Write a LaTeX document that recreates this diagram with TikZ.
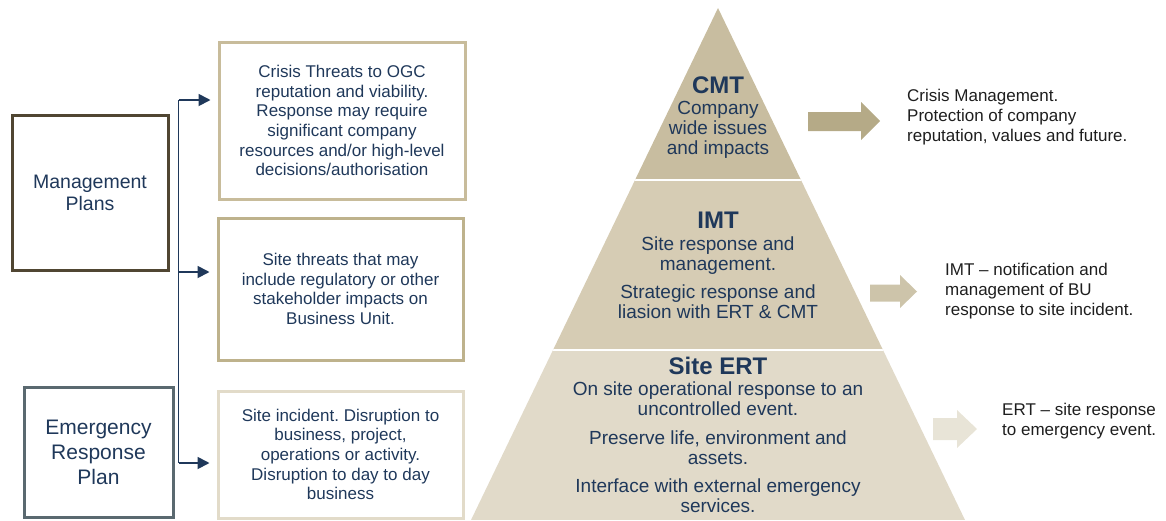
\documentclass[tikz,border=0pt]{standalone}
\usepackage{fontspec}
\setmainfont{Liberation Sans}
\usetikzlibrary{arrows.meta}
\frenchspacing

\definecolor{navy}{RGB}{31,56,90}
\definecolor{inkgray}{RGB}{30,30,30}
\definecolor{mgmtline}{RGB}{80,70,50}
\definecolor{erpline}{RGB}{90,105,112}
\definecolor{crisisline}{RGB}{200,188,155}
\definecolor{siteline}{RGB}{190,178,140}
\definecolor{incidentline}{RGB}{226,219,201}
\definecolor{cmtfill}{RGB}{200,189,160}
\definecolor{imtfill}{RGB}{214,204,180}
\definecolor{ertfill}{RGB}{225,218,201}
\definecolor{cmtarrow}{RGB}{181,170,135}
\definecolor{imtarrow}{RGB}{205,196,170}
\definecolor{ertarrow}{RGB}{232,228,215}

\begin{document}
\begin{tikzpicture}[x=1pt,y=-1pt,
  planbox/.style={draw, line width=3pt, inner sep=0pt, align=center,
    text=navy, font=\fontsize{19.5}{22}\selectfont},
  threatbox/.style={draw, line width=3pt, inner sep=0pt, align=center,
    text=navy, font=\fontsize{17}{19.7}\selectfont},
  feed/.style={draw=navy, line width=1.8pt,
    -{Triangle[length=12pt,width=12pt]}, shorten >=7pt},
  tiertitle/.style={text=navy, font=\bfseries\fontsize{24}{24}\selectfont},
  tierbody/.style={text=navy, align=center, font=\fontsize{19}{20}\selectfont},
  sidenote/.style={text=inkgray, anchor=west, align=left, inner sep=0pt,
    font=\fontsize{17}{20}\selectfont}
]
\useasboundingbox (0,0) rectangle (1166,520);

% plan boxes
\node[planbox, draw=mgmtline, minimum width=156pt, minimum height=155pt]
  (mgmt) at (90,192.5) {Management\\Plans};
\node[planbox, draw=erpline, minimum width=149pt, minimum height=130pt,
  font=\fontsize{21}{25}\selectfont]
  (erp) at (98.5,452) {Emergency\\Response\\Plan};

% threat boxes
\node[threatbox, draw=crisisline, minimum width=246pt, minimum height=157pt]
  (crisis) at (342,120.5) {Crisis Threats to OGC\\reputation and viability.\\Response may require\\significant company\\resources and/or high-level\\decisions/authorisation};
\node[threatbox, draw=siteline, minimum width=245pt, minimum height=142pt]
  (site) at (340.5,289) {Site threats that may\\include regulatory or other\\stakeholder impacts on\\Business Unit.};
\node[threatbox, draw=incidentline, minimum width=245pt, minimum height=127pt]
  (incident) at (340.5,454.5) {Site incident. Disruption to\\business, project,\\operations or activity.\\Disruption to day to day\\business};

% trunk with feeds into the threat boxes
\coordinate (ta) at (178.5,100);
\coordinate (tb) at (178.5,272);
\coordinate (tc) at (178.5,463);
\draw[navy, line width=1.8pt] (ta) -- (tc);
\draw[feed] (ta) -- (ta -| crisis.west);
\draw[feed] (tb) -- (tb -| site.west);
\draw[feed] (tc) -- (tc -| incident.west);

% pyramid
\begin{scope}
  \clip (718,8) -- (965,520) -- (471,520) -- cycle;
  \fill[cmtfill] (460,0) rectangle (980,180);
  \fill[imtfill] (460,180) rectangle (980,350);
  \fill[ertfill] (460,350) rectangle (980,520);
  \draw[white, line width=2.2pt] (460,180) -- (980,180) (460,350) -- (980,350);
\end{scope}

\node[tiertitle] (cmt) at (718,85) {CMT};
\node[tierbody] (cmtbody) at (718,130) {Company\\wide issues\\and impacts};
\node[tiertitle] (imt) at (718,220) {IMT};
\node[tierbody] (imtbody) at (718,278) {Site response and\\management.\\[8pt]Strategic response and\\liasion with ERT \& CMT};
\node[tiertitle] (ert) at (718,366) {Site ERT};
\node[tierbody] (ertbody) at (718,447) {On site operational response to an\\uncontrolled event.\\[9pt]Preserve life, environment and\\assets.\\[8pt]Interface with external emergency\\services.};

% block arrows to the side notes
\fill[cmtarrow] (808,112) -- (861,112) -- (861,102) -- (880,121) -- (861,140) -- (861,131) -- (808,131) -- cycle;
\fill[imtarrow] (870,284.5) -- (900,284.5) -- (900,275) -- (917,291.5) -- (900,308) -- (900,301.5) -- (870,301.5) -- cycle;
\fill[ertarrow] (933,418) -- (957,418) -- (957,410) -- (977,429) -- (957,448) -- (957,440) -- (933,440) -- cycle;

% side notes
\node[sidenote] (cmtnote) at (907,117.5) {Crisis Management.\\Protection of company\\reputation, values and future.};
\node[sidenote] (imtnote) at (945,291.5) {IMT -- notification and\\management of BU\\response to site incident.};
\node[sidenote] (ertnote) at (1002,421.5) {ERT -- site response\\to emergency event.};
\end{tikzpicture}
\end{document}
